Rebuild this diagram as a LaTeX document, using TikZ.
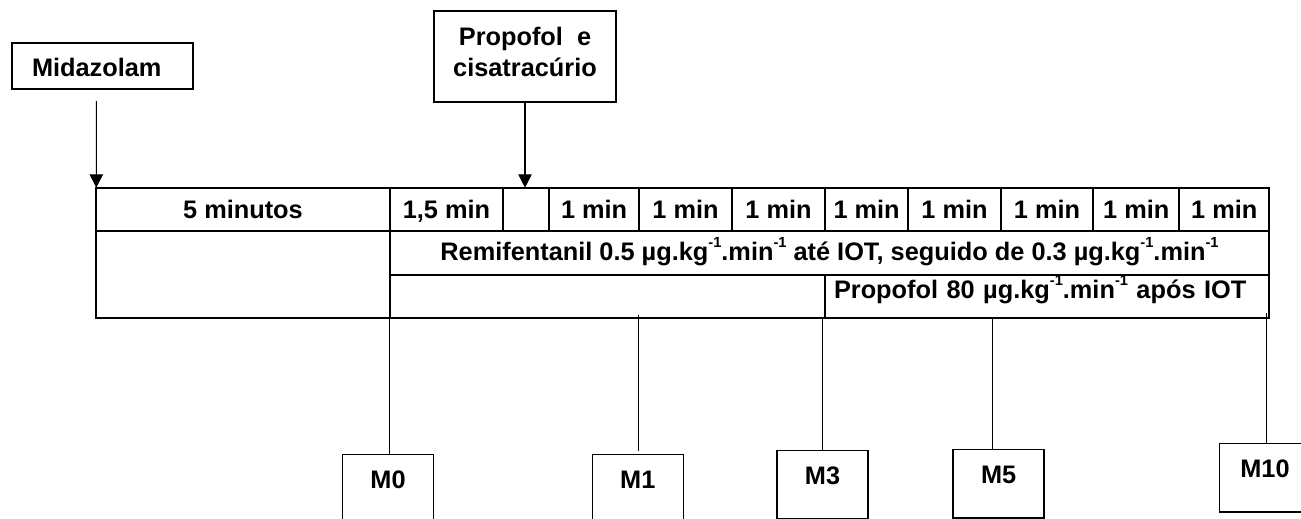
\documentclass[tikz,border=0pt]{standalone}
\usepackage{fontspec}
\setmainfont{Liberation Sans}
\usetikzlibrary{arrows.meta}
\newcommand\supx[1]{\raisebox{10pt}{\fontsize{11}{11}\selectfont #1}}
\begin{document}
\begin{tikzpicture}[x=0.75pt,y=-0.75pt,
  font=\fontsize{19}{23.25}\selectfont\bfseries,
  box/.style={draw, line width=1.1pt, inner sep=0pt, outer sep=0pt},
  cell/.style={draw, line width=1.5pt, inner sep=0pt, outer sep=0pt, text height=22.95pt, text depth=9.525pt},
  emptycell/.style={draw, line width=1.5pt, inner sep=0pt, outer sep=0pt, text height=0pt, text depth=0pt},
  mbox/.style={draw, line width=1.1pt, inner sep=0pt, outer sep=0pt, minimum width=68.25pt, text height=25.5pt, text depth=25.8pt},
  conn/.style={line width=0.8pt},
  arr/.style={line width=0.8pt, -{Triangle[length=10pt,width=10pt]}}]

\clip (0,0) rectangle (1301,518);

% top boxes
\node[box, anchor=base west, text width=105.75pt, inner xsep=15pt, align=left,
      text height=25.3pt, text depth=9.2pt] (mid) at (12,76.7) {Midazolam};
\node[box, anchor=north west, minimum width=136.5pt, minimum height=68.25pt] (prop) at (434,11) {};
\node[align=center, inner sep=0pt] (proptxt) at (525,51.5) {Propofol\ \ e\\cisatracúrio};

% row 1
\node[cell, anchor=base, minimum width=293.4*0.75pt] (r1a) at (243,218.3) {5 minutos};
\node[cell, anchor=base, minimum width=113.6*0.75pt] (r1b) at (446.5,218.3) {1,5 min};
\node[cell, anchor=base, minimum width=46*0.75pt] (r1c) at (526.3,218.3) {};
\node[cell, anchor=base, minimum width=89.7*0.75pt] (r1d) at (594.15,218.3) {1 min};
\node[cell, anchor=base, minimum width=93*0.75pt] (r1e) at (685.5,218.3) {1 min};
\node[cell, anchor=base, minimum width=93*0.75pt] (r1f) at (778.5,218.3) {1 min};
\node[cell, anchor=base, minimum width=83.3*0.75pt] (r1g) at (866.65,218.3) {1 min};
\node[cell, anchor=base, minimum width=92.4*0.75pt] (r1h) at (954.5,218.3) {1 min};
\node[cell, anchor=base, minimum width=92.6*0.75pt] (r1i) at (1047,218.3) {1 min};
\node[cell, anchor=base, minimum width=86*0.75pt] (r1j) at (1136.3,218.3) {1 min};
\node[cell, anchor=base, minimum width=90*0.75pt] (r1k) at (1224.3,218.3) {1 min};

% row 2 and 3
\node[emptycell, anchor=north west, minimum width=293.4*0.75pt, minimum height=86.7*0.75pt] (left) at (96.3,231) {};
\node[cell, anchor=base, minimum width=879.6*0.75pt, text height=22.3pt, text depth=10.7pt] (remi) at (829.5,260.7)
  {Remifentanil 0.5 µg.kg\supx{-1}.min\supx{-1} até IOT, seguido de 0.3 µg.kg\supx{-1}.min\supx{-1}};
\node[emptycell, anchor=north west, minimum width=435.3*0.75pt, minimum height=42.7*0.75pt] (r3a) at (389.7,275) {};
\node[cell, anchor=north west, text width=426.3*0.75pt, inner xsep=6.75pt, align=left,
      text height=17.5pt, text depth=14.5pt] (r3b) at (825,275)
  {Propofol 80 µg.kg\supx{-1}.min\supx{-1} após IOT};

% arrows
\coordinate (midstart) at (96.3,101);
\draw[arr] (midstart) -- (r1a.north west);
\draw[arr] (prop.south) -- (prop.south |- r1c.north);

% M boxes
\node[mbox, anchor=base] (M0) at (388,488.3) {M0};
\node[mbox, anchor=base] (M1) at (637.8,488.3) {M1};
\node[mbox, anchor=base] (M3) at (822.5,484.3) {M3};
\node[mbox, anchor=base] (M5) at (998.7,483.7) {M5};
\node[mbox, anchor=base] (M10) at (1265,477.7) {M10};

\coordinate (t0) at (389.3,317.7);
\coordinate (t1) at (638.7,315);
\coordinate (t3) at (822.3,317.7);
\coordinate (t5) at (992.7,317.7);
\coordinate (t10) at (1266.7,313);
\draw[conn] (t0) -- (t0 |- M0.north);
\draw[conn, shorten >=2.5pt] (t1) -- (t1 |- M1.north);
\draw[conn] (t3) -- (t3 |- M3.north);
\draw[conn] (t5) -- (t5 |- M5.north);
\draw[conn] (t10) -- (t10 |- M10.north);
\end{tikzpicture}
\end{document}
